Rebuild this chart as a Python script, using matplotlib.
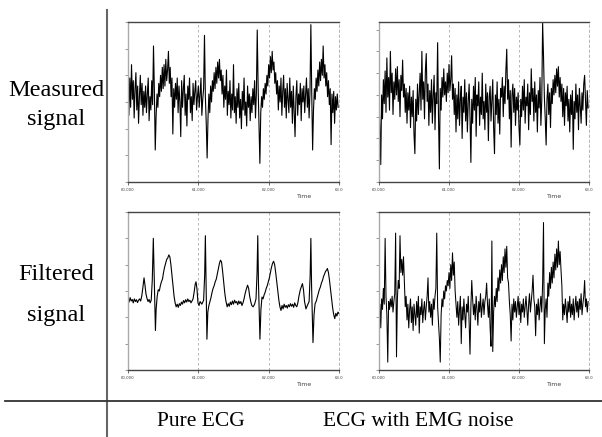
import matplotlib
matplotlib.use('Agg')
import matplotlib.pyplot as plt
from matplotlib.lines import Line2D
import numpy as np

# time axis (seconds), sampled traces start at 60.000 s
T0 = 60.0
DT = 0.0125

# measured signal, pure ECG (top left)
meas_ecg = [
    0.3, -0.5, 0.9, -0.2, 1.4, 0.1, 0.8, -0.6, 0.5, 1.1, -0.3, 0.6, -0.8, 0.2, 1.0, -0.1, 0.7, -0.5, 0.4, -0.2,
    0.6, -0.4, 0.3, 0.9, -0.7, 0.2, -0.3, 0.8, -0.1, 2.1, 0.4, -1.8, -0.5, 0.3, -0.2, 0.7, 0.2, 1.0, 0.4, 1.3,
    0.5, 1.4, 0.6, 1.6, 0.8, 1.2, 1.9, 0.7, 1.3, 0.2, 0.9, -1.2, 0.5, -0.2, 0.7, 0.1, 0.9, -0.4, 0.6, 0.0,
    -1.3, 0.8, -0.2, 0.5, 1.0, -0.5, 0.3, -0.9, 0.6, 0.1, 0.9, -0.4, 0.2, -0.7, 0.7, -0.1, 0.4, 0.8, -0.3, 0.2,
    0.6, -0.2, 0.3, 0.9, -0.5, 0.1, 0.5, 2.5, 0.2, -0.8, -2.1, -0.6, 0.3, -0.4, 0.6, 0.0, 0.8, 0.4, 1.1, 0.5,
    1.3, 0.7, 1.5, 0.9, 1.6, 0.8, 1.2, 0.3, 1.0, -0.2, 0.6, 0.1, 1.2, -0.5, 0.4, -0.1, 0.8, -0.6, 0.3, -0.3,
    1.4, -0.4, 0.2, -0.8, 0.5, -0.2, 0.7, -0.6, 0.1, -1.0, 0.4, -0.3, 0.9, -0.5, 0.0, -0.9, 0.6, -0.2, 0.3, -0.7,
    0.2, -0.4, 0.5, -0.1, 0.8, -0.6, 0.3, 2.7, 0.6, -0.9, -2.3, -0.4, 0.2, -0.2, 0.5, 0.1, 0.7, 0.3, 1.0, 0.6,
    1.4, 0.9, 1.7, 1.1, 1.9, 1.2, 1.5, 0.7, 1.1, 0.3, 0.8, -0.3, 0.6, 0.0, 0.9, -0.5, 0.4, 1.0, -0.2, 0.5,
    -0.6, 0.7, 0.1, -0.4, 0.9, -0.2, 0.4, -0.8, 0.6, -0.3, -1.3, 0.2, 0.8, -0.5, 0.3, -0.1, 0.7, -0.7, 0.5, 0.0,
    0.6, -0.4, 0.3, 0.9, -0.2, 0.5, -0.6, 0.4, 2.9, 0.3, -1.8, -0.3, 0.5, 0.1, 0.9, 0.4, 1.2, 0.6, 1.5, 0.8,
    1.6, 1.0, 2.1, 0.9, 1.4, 0.6, 1.1, 0.2, 0.8, -0.1, 0.5, -1.6, 0.3, -0.4, 0.4, -0.8, 0.2, -0.3, 0.3, -0.2,
]

# measured signal, ECG with EMG noise (top right)
meas_emg = [
    0.2, -0.9, -2.7, 0.5, -0.6, 1.2, 0.1, 1.6, -0.3, 2.2, 0.4, 1.3, -0.2, 2.5, 0.6, 1.5, -0.4, 1.1, 0.3, 1.7,
    0.5, 1.8, 0.2, 1.2, -0.5, 1.4, 0.7, 2.1, 0.4, 1.0, -0.3, 0.8, -0.8, 0.6, -0.2, 0.9, -1.0, 0.4, -0.5, 0.7,
    -1.3, -2.2, 0.3, -0.7, 1.0, -0.4, 0.6, 1.5, -0.2, 2.5, 0.3, 1.1, -0.6, 1.6, 2.4, 0.2, 1.0, -0.9, 0.7, -0.3,
    1.2, -0.8, 0.5, 1.4, -1.1, 0.6, 0.1, 2.9, -0.5, -2.9, 0.8, -0.2, 1.3, 0.4, 1.7, 0.5, 1.1, 0.2, 1.5, 0.6,
    1.9, 0.7, 1.2, 2.3, 0.3, 1.0, -0.4, 0.8, -1.2, 0.5, -0.6, 1.1, -0.9, 0.3, 0.9, -1.5, 0.4, -0.3, 1.2, -0.7,
    0.6, -1.2, 0.2, 1.0, -0.5, -2.6, 0.3, -0.8, 0.9, -0.2, 1.3, -1.4, 0.5, 0.0, 1.1, -0.9, 0.4, -0.4, 1.5, -0.6,
    0.2, -1.1, 1.0, -0.3, 0.6, -1.6, 0.4, 0.9, -0.7, 0.2, 1.2, -1.0, -2.2, 0.5, -0.4, 1.1, -0.8, 0.3, -1.3, 0.8,
    0.4, 1.3, -0.5, 0.9, 0.1, 1.6, 2.6, 0.3, 1.2, -0.6, 0.7, -1.9, 0.5, 1.0, -0.3, 0.8, -0.9, 0.4, -0.2, 0.6,
    -1.0, -1.8, 0.3, -0.5, 0.9, -0.2, 1.2, -0.8, 0.4, 0.0, 1.0, -1.1, 0.6, -0.4, 1.7, 0.2, 0.8, -0.7, 1.1, -0.3,
    0.5, -1.2, 0.7, -0.1, 1.3, -0.9, 0.2, 3.8, 2.3, 0.4, -0.6, -1.8, 0.3, 1.0, -0.4, 0.6, -1.0, 0.8, 0.1, 1.2,
    0.5, 1.4, 0.6, 1.7, 0.9, 1.8, 0.4, 1.3, 0.2, 1.0, -0.5, 0.8, -0.9, 0.6, 0.0, 0.9, -0.7, 0.3, -1.2, 0.5,
    -0.4, 0.7, -2.0, 0.2, -0.6, 1.0, -0.3, 0.5, -1.1, 0.8, 0.0, -0.8, 0.6, -0.2, 1.0, 1.4, 0.3, -0.9, 0.7, -0.1,
]

# filtered signal, ECG with EMG noise (bottom right)
filt_emg = [
    -1.0, -0.5, -1.4, -0.3, -0.7, 0.1, -0.5, 2.0, -0.2, -0.9, -2.7, -0.4, -0.7, -0.3, -0.6, -0.2, -0.8, -0.4, -0.1, 2.2,
    -2.5, -0.3, 0.4, 0.1, 2.1, 0.7, 1.2, 0.6, 1.3, 0.4, -0.6, -0.2, -1.1, -0.5, -1.4, -0.7, -0.3, -1.2, -0.6, -1.5,
    -0.5, -0.9, -1.3, -0.4, -1.0, -0.2, -1.6, -0.6, -0.9, -0.3, -1.2, -0.7, -0.4, -1.1, -0.6, -0.2, 0.5, -0.8, -0.4, -1.0,
    -0.5, -1.3, -0.3, -0.7, -0.2, 0.1, 2.2, -0.6, -1.2, -1.8, -2.7, -0.9, -0.3, -0.6, 0.0, -0.3, 0.2, 0.0, 0.4, 0.2,
    0.7, 0.1, 1.0, 0.4, 1.45, 0.6, 1.1, 0.0, -0.5, -1.0, -0.4, -1.3, -0.7, -0.2, -2.0, -0.6, -1.1, -0.3, -0.9, -1.4,
    -0.5, -0.8, -0.2, -1.2, -2.4, -0.6, 0.4, -0.3, -0.9, -0.5, -1.1, -0.2, -0.7, -1.3, -0.4, -0.8, -0.1, -1.0, -0.6, -0.3,
    -0.9, -0.4, -0.2, 0.3, -0.5, -1.0, -0.3, -1.4, -2.1, 1.9, -2.3, -0.8, -0.2, -0.6, 0.1, -0.4, 0.5, 0.0, 0.8, 0.3,
    1.0, 0.4, 1.3, 0.7, 1.6, 0.9, 1.7, 0.5, 0.3, -0.4, -0.9, -1.9, -0.5, -1.1, -0.3, -0.8, -0.4, -1.0, -0.6, -0.2,
    -0.9, -0.4, -1.2, -0.5, -0.8, -0.3, -1.0, -0.6, -0.2, -0.7, -1.3, -0.5, -0.1, -0.8, -0.4, 0.0, 0.6, -0.3, -0.6, -1.7,
    -0.5, -0.9, -0.3, -1.1, -0.6, -0.2, -0.8, 0.3, 2.6, -2.0, -0.7, -0.3, -1.0, 0.3, -0.2, 0.7, 0.1, 0.9, 0.3, 1.1,
    0.5, 1.4, 0.8, 1.6, 0.9, 1.9, 1.0, 1.5, 0.8, 0.2, -1.1, -0.5, -0.9, -0.3, -0.7, -1.2, -0.4, -0.8, -0.2, -1.0,
    -0.5, -0.9, -0.3, -1.1, -0.6, -0.2, -0.8, -0.4, -1.0, -0.3, -0.7, -0.1, -0.9, -0.5, -0.2, 0.4, -0.6, -0.3, -0.8, -0.4,
]

# filtered signal, pure ECG (bottom left): time offsets from 60 s and values
filt_ecg_t = [
    0.00, 0.015, 0.03, 0.045, 0.06, 0.075, 0.09, 0.105, 0.12, 0.135, 0.15, 0.165, 0.18, 0.195, 0.21, 0.228,
    0.24, 0.255, 0.27, 0.285, 0.30, 0.315, 0.33, 0.345, 0.36, 0.375, 0.39, 0.40, 0.415, 0.43, 0.445, 0.46,
    0.475, 0.49, 0.505, 0.52, 0.535, 0.55, 0.565, 0.58, 0.595, 0.61, 0.625, 0.64, 0.655, 0.67, 0.685, 0.70,
    0.715, 0.73, 0.745, 0.76, 0.775, 0.79, 0.805, 0.82, 0.835, 0.85, 0.865, 0.88, 0.895, 0.91, 0.925, 0.94,
    0.955, 0.967, 0.98, 0.995, 1.01, 1.025, 1.05, 1.075, 1.09, 1.10, 1.11, 1.122, 1.135, 1.15, 1.165, 1.18,
    1.195, 1.21, 1.225, 1.24, 1.255, 1.27, 1.285, 1.30, 1.315, 1.33, 1.345, 1.36, 1.375, 1.39, 1.41, 1.425,
    1.44, 1.455, 1.47, 1.485, 1.50, 1.515, 1.53, 1.545, 1.56, 1.575, 1.59, 1.605, 1.62, 1.635, 1.65, 1.665,
    1.68, 1.70, 1.715, 1.73, 1.745, 1.76, 1.78, 1.80, 1.82, 1.835, 1.845, 1.855, 1.876, 1.89, 1.905, 1.92,
    1.935, 1.95, 1.965, 1.98, 1.995, 2.01, 2.025, 2.04, 2.055, 2.07, 2.085, 2.10, 2.115, 2.13, 2.145, 2.16,
    2.175, 2.19, 2.205, 2.22, 2.235, 2.25, 2.265, 2.28, 2.295, 2.31, 2.325, 2.34, 2.355, 2.37, 2.385, 2.40,
    2.415, 2.43, 2.45, 2.48, 2.495, 2.51, 2.53, 2.55, 2.575, 2.59, 2.60, 2.61, 2.63, 2.645, 2.66, 2.675,
    2.69, 2.705, 2.72, 2.735, 2.75, 2.765, 2.78, 2.795, 2.81, 2.825, 2.835, 2.85, 2.865, 2.88, 2.895, 2.91,
    2.925, 2.94, 2.955, 2.97, 2.985, 3.00,
]
filt_ecg_v = [
    -0.30, -0.42, -0.25, -0.38, -0.32, -0.45, -0.30, -0.40, -0.33, -0.44, -0.35, -0.30, -0.38, -0.20, 0.10, 0.50,
    0.25, -0.10, -0.28, -0.40, -0.32, -0.45, -0.35, 0.40, 2.00, 0.30, -1.50, -0.70, -0.20, 0.05, 0.00, 0.20,
    0.35, 0.45, 0.70, 0.90, 1.05, 1.20, 1.25, 1.37, 1.30, 1.00, 0.60, 0.20, -0.20, -0.45, -0.60, -0.50,
    -0.62, -0.48, -0.55, -0.42, -0.50, -0.36, -0.45, -0.33, -0.42, -0.30, -0.40, -0.35, -0.45, -0.38, -0.30, -0.05,
    0.25, 0.35, 0.10, -0.45, -0.55, -0.40, -0.50, -0.35, 0.60, 2.10, 0.20, -1.83, -0.80, -0.55, -0.40, -0.25,
    -0.05, 0.10, 0.20, 0.35, 0.45, 0.65, 0.85, 1.05, 1.17, 1.10, 0.75, 0.35, -0.05, -0.35, -0.60, -0.48,
    -0.58, -0.42, -0.52, -0.38, -0.50, -0.35, -0.45, -0.40, -0.52, -0.38, -0.48, -0.40, -0.55, -0.45, -0.30, -0.10,
    0.05, 0.22, 0.10, -0.20, -0.40, -0.55, -0.60, -0.50, -0.30, 0.70, 2.10, 0.30, -1.83, -0.70, -0.23, -0.30,
    -0.15, -0.05, 0.10, 0.20, 0.35, 0.50, 0.70, 0.90, 1.05, 1.13, 1.00, 0.70, 0.35, 0.00, -0.35, -0.60,
    -0.74, -0.55, -0.68, -0.50, -0.62, -0.55, -0.65, -0.52, -0.60, -0.48, -0.58, -0.50, -0.62, -0.45, -0.55, -0.60,
    -0.45, -0.20, 0.05, 0.28, 0.05, -0.40, -0.68, -0.55, -0.40, 0.60, 2.00, 0.20, -1.96, -0.90, -0.48, -0.40,
    -0.25, -0.10, 0.05, 0.15, 0.30, 0.40, 0.55, 0.65, 0.75, 0.80, 0.85, 0.70, 0.40, 0.05, -0.30, -0.65,
    -0.90, -1.05, -0.85, -0.95, -0.80, -0.86,
]

row_labels = ['Measured\nsignal', 'Filtered\nsignal']
col_labels = ['Pure ECG', 'ECG with EMG noise']
xtick_vals = [60, 61, 62, 63]
xtick_text = ['60.000', '61.000', '62.000', '63.0']

W, H = 602, 437
fig = plt.figure(figsize=(W / 100, H / 100), dpi=100)


def panel(x0, y0, x1, y1, ylim, yticks):
    ax = fig.add_axes([x0 / W, 1 - y1 / H, (x1 - x0) / W, (y1 - y0) / H])
    ax.set_xlim(60, 63)
    ax.set_ylim(*ylim)
    ax.set_xticks(xtick_vals)
    ax.set_xticklabels(xtick_text, fontsize=2.8, color='#444')
    ax.set_yticks(yticks)
    ax.set_yticklabels([])
    ax.tick_params(axis='x', length=2, width=0.6, pad=2, color='#555')
    ax.tick_params(axis='y', length=2, width=0.6, color='#888')
    ax.grid(axis='x', linestyle=(0, (3, 3)), color='#aaa', linewidth=0.6)
    ax.spines['right'].set_linestyle((0, (3, 3)))
    ax.spines['right'].set_color('#aaa')
    ax.spines['right'].set_linewidth(0.6)
    ax.spines['top'].set_color('#444')
    ax.spines['bottom'].set_color('#444')
    ax.spines['left'].set_color('#aaa')
    for s in ['top', 'bottom', 'left']:
        ax.spines[s].set_linewidth(1.0)
    return ax


def time_label(x, y):
    fig.text(x / W, 1 - y / H, 'Time', fontsize=4.4, color='#444', ha='center', va='center')


ax1 = panel(128, 22, 339, 182, (-3, 3), np.arange(-3, 4, 1))
ax1.plot(T0 + DT * np.arange(len(meas_ecg)), meas_ecg, color='black', lw=0.8)
time_label(305, 197)

ax2 = panel(379, 22, 589, 182, (-3.5, 3.85), np.arange(-3.5, 4, 1))
ax2.plot(T0 + DT * np.arange(len(meas_emg)), meas_emg, color='black', lw=0.8)
time_label(555, 197)

ax3 = panel(128, 212, 339, 370, (-3, 3), np.arange(-3, 4, 1))
ax3.plot(T0 + np.array(filt_ecg_t), filt_ecg_v, color='black', lw=0.8)
time_label(305, 385)

ax4 = panel(379, 212, 589, 370, (-3, 3), np.arange(-3, 4, 1))
ax4.plot(T0 + DT * np.arange(len(filt_emg)), filt_emg, color='black', lw=0.75)
time_label(555, 385)

serif = ['Liberation Serif', 'DejaVu Serif']
fig.text(56 / W, 1 - 90 / H, 'Measured', fontsize=17.5, family=serif, ha='center', va='center')
fig.text(56 / W, 1 - 119 / H, 'signal', fontsize=17.5, family=serif, ha='center', va='center')
fig.text(56 / W, 1 - 274 / H, 'Filtered', fontsize=17.5, family=serif, ha='center', va='center')
fig.text(56 / W, 1 - 316 / H, 'signal', fontsize=17.5, family=serif, ha='center', va='center')
fig.text(201 / W, 1 - 421 / H, col_labels[0], fontsize=15.5, family=serif,
         ha='center', va='center')
fig.text(418 / W, 1 - 421 / H, col_labels[1], fontsize=15.5, family=serif,
         ha='center', va='center')

# table rules
fig.add_artist(Line2D([107 / W, 107 / W], [1 - 10 / H, 0], color='#666', lw=1.5))
fig.add_artist(Line2D([5 / W, 1], [1 - 401 / H, 1 - 401 / H], color='#333', lw=1.3))

fig.savefig('out.png', dpi=100)
